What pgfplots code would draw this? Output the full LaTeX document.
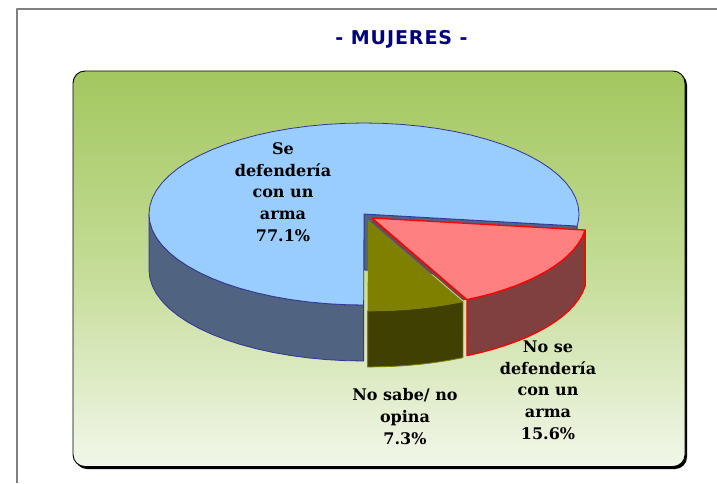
\documentclass[border=0pt]{standalone}
\usepackage{fontspec}
\usepackage{pgfplots}
\usepackage{pgfplotstable}
\pgfplotsset{compat=1.18}
\setmainfont{DejaVu Serif}
\newfontfamily\titlefont[LetterSpace=5]{DejaVu Sans}

\definecolor{navytitle}{HTML}{000080}
\definecolor{frameline}{HTML}{808080}
\definecolor{bluetop}{HTML}{99CCFF}
\definecolor{blueside}{HTML}{506381}
\definecolor{blueedge}{HTML}{333399}
\definecolor{redtop}{HTML}{FF8080}
\definecolor{redside}{HTML}{804040}
\definecolor{olivetop}{HTML}{808000}
\definecolor{oliveside}{HTML}{404000}
\definecolor{paneltop}{RGB}{163,199,95}
\definecolor{panelmid}{RGB}{196,220,150}
\definecolor{panelbot}{RGB}{242,247,234}

\tikzset{lbl/.style={font=\bfseries\fontsize{16}{21.7}\selectfont, align=center, text=black, inner sep=0pt}}

% shares 77.1 / 15.6 / 7.3 % as angles on the ellipse, start at 7.6 deg
% t = angle, r = 0 at apex 1 at rim, d = drop of the pie wall in px
\pgfplotstableread[row sep=\\]{
t r d\\
0 0 0\\
90.1 1 0\\ 95 1 0\\ 100 1 0\\ 105 1 0\\ 110 1 0\\ 115 1 0\\ 120 1 0\\ 125 1 0\\ 130 1 0\\ 135 1 0\\
140 1 0\\ 145 1 0\\ 150 1 0\\ 155 1 0\\ 160 1 0\\ 165 1 0\\ 170 1 0\\ 175 1 0\\ 180 1 0\\ 185 1 0\\
190 1 0\\ 195 1 0\\ 200 1 0\\ 205 1 0\\ 210 1 0\\ 215 1 0\\ 220 1 0\\ 225 1 0\\ 230 1 0\\ 235 1 0\\
240 1 0\\ 245 1 0\\ 250 1 0\\ 255 1 0\\ 260 1 0\\ 265 1 0\\ 270 1 0\\ 275 1 0\\ 280 1 0\\ 285 1 0\\
290 1 0\\ 295 1 0\\ 300 1 0\\ 305 1 0\\ 310 1 0\\ 315 1 0\\ 320 1 0\\ 325 1 0\\ 330 1 0\\ 335 1 0\\
340 1 0\\ 345 1 0\\ 350 1 0\\ 355 1 0\\ 360 1 0\\ 364 1 0\\ 367.6 1 0\\
}\blueslice
\pgfplotstableread[row sep=\\]{
t r d\\
90.1 1 0\\ 95 1 0\\ 100 1 0\\ 105 1 0\\ 110 1 0\\ 115 1 0\\ 120 1 0\\ 125 1 0\\ 130 1 0\\ 135 1 0\\
140 1 0\\ 145 1 0\\ 150 1 0\\ 155 1 0\\ 160 1 0\\ 165 1 0\\ 170 1 0\\ 175 1 0\\ 180 1 0\\
180 1 56\\ 175 1 56\\ 170 1 56\\ 165 1 56\\ 160 1 56\\ 155 1 56\\ 150 1 56\\ 145 1 56\\ 140 1 56\\
135 1 56\\ 130 1 56\\ 125 1 56\\ 120 1 56\\ 115 1 56\\ 110 1 56\\ 105 1 56\\ 100 1 56\\ 95 1 56\\ 90.1 1 56\\
}\bluewall
\pgfplotstableread[row sep=\\]{
t r d\\
0 0 0\\ 7.6 1 0\\ 7.6 1 56\\ 0 0 56\\
}\blueinner
\pgfplotstableread[row sep=\\]{
t r d\\
0 0 0\\
7.6 1 0\\ 12 1 0\\ 16 1 0\\ 20 1 0\\ 24 1 0\\ 28 1 0\\ 32 1 0\\ 36 1 0\\ 40 1 0\\ 44 1 0\\ 48 1 0\\ 52 1 0\\ 56 1 0\\ 60 1 0\\ 63.8 1 0\\
}\redslice
\pgfplotstableread[row sep=\\]{
t r d\\
7.6 1 0\\ 12 1 0\\ 16 1 0\\ 20 1 0\\ 24 1 0\\ 28 1 0\\ 32 1 0\\ 36 1 0\\ 40 1 0\\ 44 1 0\\ 48 1 0\\ 52 1 0\\ 56 1 0\\ 60 1 0\\ 63.8 1 0\\
63.8 1 56\\ 60 1 56\\ 56 1 56\\ 52 1 56\\ 48 1 56\\ 44 1 56\\ 40 1 56\\ 36 1 56\\ 32 1 56\\ 28 1 56\\ 24 1 56\\ 20 1 56\\ 16 1 56\\ 12 1 56\\ 7.6 1 56\\
}\redwall
\pgfplotstableread[row sep=\\]{
t r d\\
0 0 0\\ 63.8 1 0\\ 63.8 0.96 4\\ 0 0 4\\
}\redinner
\pgfplotstableread[row sep=\\]{
t r d\\
0 0 0\\
63.8 1 0\\ 68 1 0\\ 72 1 0\\ 76 1 0\\ 80 1 0\\ 84 1 0\\ 90.1 1 0\\
}\oliveslice
\pgfplotstableread[row sep=\\]{
t r d\\
63.8 1 0\\ 68 1 0\\ 72 1 0\\ 76 1 0\\ 80 1 0\\ 84 1 0\\ 90.1 1 0\\
90.1 1 56\\ 84 1 56\\ 80 1 56\\ 76 1 56\\ 72 1 56\\ 68 1 56\\ 63.8 1 56\\
}\olivewall

% draw one part of a slice: options, centre x, centre y, table
\newcommand{\piepart}[4]{%
  \addplot[#1] table[
    x expr={#2+215*\thisrow{r}*cos(\thisrow{t})},
    y expr={#3+91*\thisrow{r}*sin(\thisrow{t})+\thisrow{d}}] {#4} -- cycle;
}

\begin{document}
\begin{tikzpicture}
\begin{axis}[
    width=717pt, height=483pt, scale only axis,
    xmin=0, xmax=717, ymin=0, ymax=483, y dir=reverse,
    hide axis, clip=true, no marks,
    every axis plot/.append style={line join=round},
]
  \addplot[draw=none, fill=white] coordinates {(0,0) (717,0) (717,483) (0,483)} -- cycle;
  \addplot[frameline, line width=1.5pt] coordinates {(717,9) (17,9) (17,483)};

  % panel with drop shadow
  \fill[black, rounded corners=12pt] (axis cs:75,73) rectangle (axis cs:687,469);
  \shade[rounded corners=12pt, top color=paneltop, bottom color=panelbot, middle color=panelmid]
    (axis cs:73,71) rectangle (axis cs:685,466.5);
  \draw[black, line width=0.9pt, rounded corners=12pt] (axis cs:73,71) rectangle (axis cs:685,466.5);

  \node[font=\titlefont\bfseries\fontsize{19}{22}\selectfont, text=navytitle] at (axis cs:401.5,39) {- MUJERES -};

  % blue slice
  \piepart{draw=blueedge, line width=0.8pt, fill=blueside}{364}{214}{\bluewall}
  \piepart{draw=blueedge, line width=0.8pt, fill=blueside}{364}{214}{\blueinner}
  \piepart{draw=blueedge, line width=0.8pt, fill=bluetop}{364}{214}{\blueslice}
  % red slice
  \piepart{draw=none, fill=redside}{372}{218}{\redinner}
  \piepart{draw=red, line width=1.3pt, fill=redside}{372}{218}{\redwall}
  \piepart{draw=red, line width=1.3pt, fill=redtop}{372}{218}{\redslice}
  % olive slice
  \piepart{draw=olivetop, line width=0.8pt, fill=oliveside}{368}{220}{\olivewall}
  \piepart{draw=none, fill=olivetop}{368}{220}{\oliveslice}

  \node[lbl] at (axis cs:283,192) {Se\\defendería\\con un\\arma\\77.1\%};
  \node[lbl] at (axis cs:548,390) {No se\\defendería\\con un\\arma\\15.6\%};
  \node[lbl] at (axis cs:405,416.5) {No sabe/ no\\opina\\7.3\%};
\end{axis}
\end{tikzpicture}
\end{document}
